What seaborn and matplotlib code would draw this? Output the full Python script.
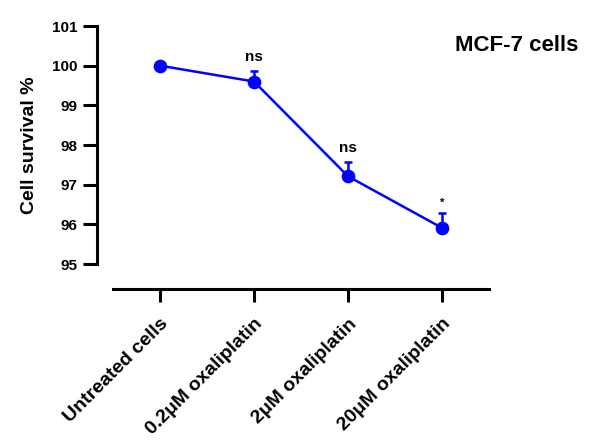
import pandas as pd
import seaborn as sns
from matplotlib import pyplot as plt

groups = ['Untreated cells', '0.2μM oxaliplatin', '2μM oxaliplatin', '20μM oxaliplatin']
survival = [100.0, 99.6, 97.21, 95.91]
sd = [0.0, 0.26, 0.37, 0.37]
signif = ['', 'ns', 'ns', '*']

data = pd.DataFrame({'group': groups, 'survival': survival})

sns.set_style('ticks')
plt.rcParams['font.family'] = ['Liberation Sans', 'DejaVu Sans']
plt.rcParams['font.weight'] = 'bold'
plt.rcParams['text.color'] = 'black'
plt.rcParams['axes.labelcolor'] = 'black'
plt.rcParams['axes.edgecolor'] = 'black'
plt.rcParams['xtick.color'] = 'black'
plt.rcParams['ytick.color'] = 'black'

fig = plt.figure(figsize=(5.89, 4.40), dpi=100)
ax = fig.add_axes([0.1919, 0.40, 0.6384, 0.5409])

blue = '#0000ff'
sns.pointplot(data=data, x='group', y='survival', color=blue, markers='o',
              markersize=8.5, linewidth=1.8, errorbar=None, ax=ax)
ax.errorbar(range(len(groups)), survival, yerr=[[0] * len(sd), sd], fmt='none',
            ecolor=blue, elinewidth=1.8, capsize=3, capthick=1.8, zorder=1)

for i, s in enumerate(signif):
    if s:
        ax.annotate(s, (i, survival[i] + sd[i]), xytext=(0, 5 if s != '*' else 4),
                    textcoords='offset points', ha='center', va='bottom',
                    fontsize=11 if s != '*' else 8, fontweight='bold')

ax.set_xlim(-0.5, 3.5)
ax.set_ylim(95, 101)
ax.set_yticks(range(95, 102))
ax.set_xlabel('')
ax.set_ylabel('Cell survival %', fontsize=14, fontweight='bold', labelpad=10)

sns.despine(ax=ax)
ax.spines['left'].set_position(('outward', 11.5))
ax.spines['bottom'].set_position(('outward', 18))
for sp in ['left', 'bottom']:
    ax.spines[sp].set_linewidth(2.2)
ax.tick_params(axis='y', length=10, width=2.2, pad=4, labelsize=11)
ax.tick_params(axis='x', length=9, width=2.2, pad=10, labelsize=14)
plt.setp(ax.get_xticklabels(), rotation=45, ha='right', rotation_mode='anchor', fontweight='bold')
plt.setp(ax.get_yticklabels(), fontweight='bold')

fig.text(0.878, 0.897, 'MCF-7 cells', ha='center', va='center', fontsize=16, fontweight='bold')

fig.savefig('out.png', dpi=100)
